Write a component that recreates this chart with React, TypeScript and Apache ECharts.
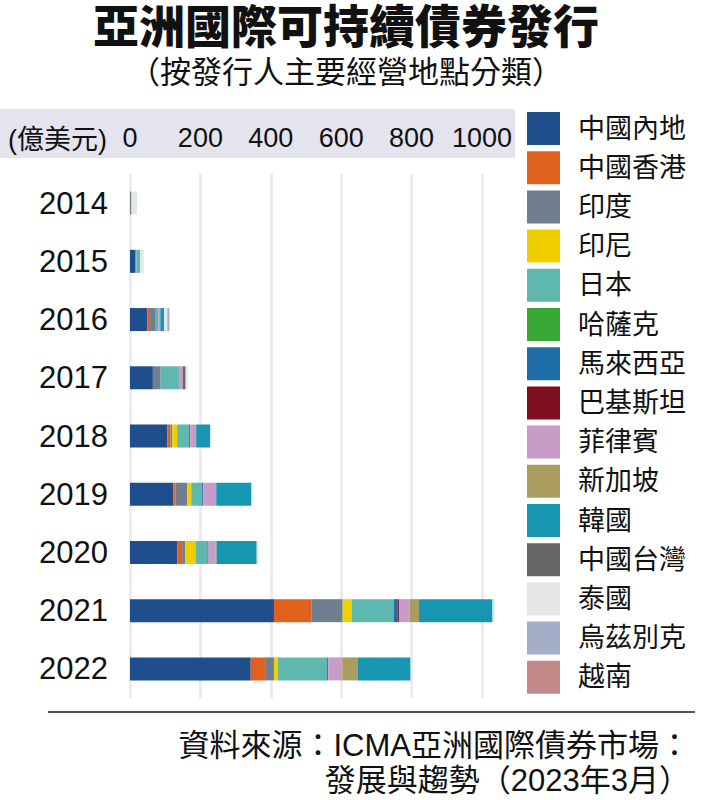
import React, { useEffect, useRef } from "react";
import * as echarts from "echarts";

const years = ["2014", "2015", "2016", "2017", "2018", "2019", "2020", "2021", "2022"];
const xTicks = [0, 200, 400, 600, 800, 1000];

const seriesNames = [
  "中國內地", "中國香港", "印度", "印尼", "日本", "哈薩克", "馬來西亞", "巴基斯坦",
  "菲律賓", "新加坡", "韓國", "中國台灣", "泰國", "烏茲別克", "越南",
];
const seriesColors = [
  "#1f4e8c", "#e0601e", "#6f7f8f", "#f0cf00", "#5fb8ad", "#3aa836", "#1f6eaa", "#7e0f20",
  "#c99cc7", "#a99c5e", "#1696b0", "#666666", "#e6e6e6", "#a4aec9", "#c48a8a",
];

const mainland = [0, 15, 49, 65, 106, 123, 134, 409, 343];
const hongKong = [0, 0, 8, 0, 9, 6, 14, 106, 43];
const india = [4, 3, 14, 22, 5, 34, 9, 89, 23];
const indonesia = [0, 0, 0, 0, 14, 11, 29, 26, 11];
const japan = [0, 11, 9, 52, 34, 31, 34, 120, 140];
const kazakhstan = [0, 0, 0, 0, 0, 0, 0, 0, 0];
const malaysia = [0, 0, 0, 0, 3, 3, 3, 11, 3];
const pakistan = [0, 0, 0, 0, 0, 0, 0, 3, 0];
const philippines = [0, 0, 6, 11, 17, 37, 20, 31, 40];
const singapore = [0, 0, 0, 0, 0, 0, 3, 26, 43];
const korea = [0, 0, 11, 0, 40, 100, 114, 209, 151];
const taiwan = [0, 0, 0, 8, 0, 0, 0, 0, 0];
const thailand = [16, 10, 9, 6, 3, 3, 5, 6, 3];
const uzbekistan = [0, 0, 6, 0, 0, 0, 0, 0, 0];
const vietnam = [0, 0, 0, 0, 0, 0, 0, 0, 0];

const seriesValues = [
  mainland, hongKong, india, indonesia, japan, kazakhstan, malaysia, pakistan,
  philippines, singapore, korea, taiwan, thailand, uzbekistan, vietnam,
];

const FONT = '"Liberation Sans", "Noto Sans CJK TC", sans-serif';

export default function App() {
  const ref = useRef<HTMLDivElement>(null);

  useEffect(() => {
    if (!ref.current) return;
    const chart = echarts.init(ref.current, null, { renderer: "svg" });
    chart.setOption({
      animation: false,
      backgroundColor: "#ffffff",
      textStyle: { fontFamily: FONT },
      graphic: [
        {
          type: "rect",
          z: -10,
          shape: { x: 0, y: 109, width: 515, height: 49 },
          style: { fill: "#e4e4ee" },
        },
        {
          type: "text",
          x: 346,
          y: 27,
          style: {
            text: "亞洲國際可持續債券發行",
            font: `900 46px ${FONT}`,
            fill: "#111",
            textAlign: "center",
            textVerticalAlign: "middle",
          },
        },
        {
          type: "text",
          x: 346,
          y: 72,
          style: {
            text: "（按發行人主要經營地點分類）",
            font: `31px ${FONT}`,
            fill: "#111",
            textAlign: "center",
            textVerticalAlign: "middle",
          },
        },
        {
          type: "text",
          x: 8,
          y: 140,
          style: {
            text: "(億美元)",
            font: `27px ${FONT}`,
            fill: "#111",
            textAlign: "left",
            textVerticalAlign: "middle",
          },
        },
        {
          type: "line",
          shape: { x1: 48, y1: 712, x2: 695, y2: 712 },
          style: { stroke: "#555", lineWidth: 2 },
        },
        {
          type: "text",
          x: 690,
          y: 745,
          style: {
            text: "資料來源：ICMA亞洲國際債券市場：",
            font: `31px ${FONT}`,
            fill: "#111",
            textAlign: "right",
            textVerticalAlign: "middle",
          },
        },
        {
          type: "text",
          x: 690,
          y: 780,
          style: {
            text: "發展與趨勢（2023年3月）",
            font: `31px ${FONT}`,
            fill: "#111",
            textAlign: "right",
            textVerticalAlign: "middle",
          },
        },
      ],
      legend: {
        orient: "vertical",
        left: 527,
        top: 112,
        padding: 0,
        icon: "rect",
        itemWidth: 33,
        itemHeight: 33,
        itemGap: 6.2,
        selectedMode: false,
        data: seriesNames,
        textStyle: { fontSize: 27, color: "#111", fontFamily: FONT, padding: [0, 0, 0, 13] },
      },
      grid: { left: 130, right: 219, top: 174, height: 524, containLabel: false },
      xAxis: {
        type: "value",
        position: "top",
        min: xTicks[0],
        max: xTicks[xTicks.length - 1],
        interval: 200,
        axisLine: { show: false },
        axisTick: { show: false },
        axisLabel: {
          fontSize: 27,
          color: "#111",
          margin: 23,
          fontFamily: FONT,
          formatter: (v: number) => String(v),
        },
        splitLine: { show: true, lineStyle: { color: "#ececf0", width: 3 } },
      },
      yAxis: {
        type: "category",
        data: years,
        inverse: true,
        axisLine: { show: false },
        axisTick: { show: false },
        axisLabel: { fontSize: 31, color: "#111", margin: 22, fontFamily: FONT },
      },
      series: seriesNames.map((name, i) => ({
        name,
        type: "bar",
        stack: "total",
        barWidth: 23,
        clip: false,
        itemStyle: { color: seriesColors[i] },
        data: seriesValues[i],
      })),
    });
    return () => chart.dispose();
  }, []);

  return (
    <div
      ref={ref}
      style={{ position: "fixed", left: 0, top: 0, width: 701, height: 800 }}
    />
  );
}
